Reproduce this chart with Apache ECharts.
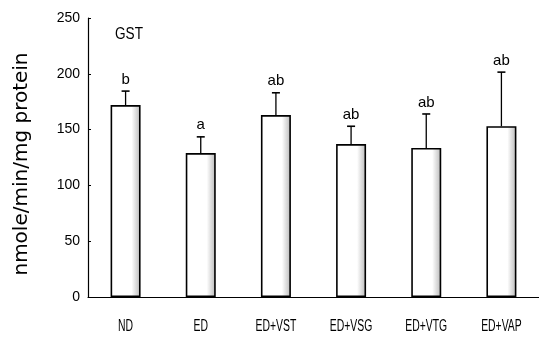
<!DOCTYPE html>
<html>
<head>
<meta charset="utf-8">
<script src="https://cdn.jsdelivr.net/npm/echarts@6/dist/echarts.min.js"></script>
<style>
  html, body { margin: 0; padding: 0; background: #fff; }
  #chart { width: 539px; height: 338px; }
</style>
</head>
<body>
<div id="chart"></div>
<script>
// GST activity per group (mean and SD) with significance letters
const groups = ['ND', 'ED', 'ED+VST', 'ED+VSG', 'ED+VTG', 'ED+VAP'];
const means = [172, 129, 163, 137, 133.5, 153];
const sds = [12.5, 14.5, 20, 16, 30.5, 48.5];
const letters = ['b', 'a', 'ab', 'ab', 'ab', 'ab'];
const yTicks = [0, 50, 100, 150, 200, 250];

const chart = echarts.init(document.getElementById('chart'));

const errData = groups.map((g, i) => [i, means[i], means[i] + sds[i], letters[i]]);
const baseFont = '"Liberation Sans", Arial, sans-serif';

chart.setOption({
  animation: false,
  backgroundColor: '#fff',
  grid: { left: 88, right: 0, top: 18, bottom: 41 },
  xAxis: {
    type: 'category',
    data: groups,
    boundaryGap: true,
    axisLine: { lineStyle: { color: '#000', width: 1.2 } },
    axisTick: { inside: true, length: 3, interval: 0, lineStyle: { color: '#000' } },
    // category names are drawn below as condensed text
    axisLabel: { show: false }
  },
  yAxis: {
    type: 'value',
    min: yTicks[0],
    max: yTicks[yTicks.length - 1],
    interval: 50,
    splitLine: { show: false },
    axisLine: { show: true, lineStyle: { color: '#000', width: 1.2 } },
    axisTick: { show: true, inside: true, length: 3, lineStyle: { color: '#000' } },
    axisLabel: {
      color: '#000',
      fontFamily: baseFont,
      fontSize: 14,
      margin: 8
    }
  },
  series: [
    {
      type: 'bar',
      data: means,
      barWidth: 30,
      itemStyle: {
        color: {
          type: 'linear', x: 0, y: 0, x2: 1, y2: 0,
          colorStops: [
            { offset: 0, color: '#ffffff' },
            { offset: 0.7, color: '#ffffff' },
            { offset: 0.82, color: '#e2e2e2' },
            { offset: 1, color: '#b8b8b8' }
          ]
        },
        borderColor: '#000',
        borderWidth: 1.6
      },
      z: 2
    },
    {
      type: 'custom',
      data: errData,
      z: 3,
      renderItem: function (params, api) {
        const x = api.value(0);
        const base = api.coord([x, api.value(1)]);
        const top = api.coord([x, api.value(2)]);
        const cap = 4;
        return {
          type: 'group',
          children: [
            {
              type: 'line',
              shape: { x1: base[0], y1: base[1], x2: top[0], y2: top[1] },
              style: { stroke: '#000', lineWidth: 1.3 }
            },
            {
              type: 'line',
              shape: { x1: top[0] - cap, y1: top[1], x2: top[0] + cap, y2: top[1] },
              style: { stroke: '#000', lineWidth: 1.6 }
            },
            {
              type: 'text',
              x: top[0],
              y: top[1] - 4,
              style: {
                text: api.value(3),
                fill: '#000',
                font: '15px ' + baseFont,
                textAlign: 'center',
                textVerticalAlign: 'bottom'
              }
            }
          ]
        };
      }
    }
  ]
});

// Condensed category names, placed at the axis category positions
const labelY = chart.convertToPixel({ yAxisIndex: 0 }, 0) + 30;
const catLabels = groups.map(function (g) {
  return {
    type: 'text',
    x: chart.convertToPixel({ xAxisIndex: 0 }, g),
    y: labelY,
    scaleX: 0.65,
    style: {
      text: g,
      fill: '#000',
      font: '16px ' + baseFont,
      textAlign: 'center',
      textVerticalAlign: 'middle'
    }
  };
});

chart.setOption({
  graphic: catLabels.concat([
    {
      type: 'text',
      x: 22,
      y: 164,
      rotation: Math.PI / 2,
      style: {
        text: 'nmole/min/mg protein',
        fill: '#000',
        font: '20px "DejaVu Sans", sans-serif',
        textAlign: 'center',
        textVerticalAlign: 'middle'
      }
    },
    {
      type: 'text',
      x: 115,
      y: 34,
      scaleX: 0.8,
      style: {
        text: 'GST',
        fill: '#000',
        font: '17px ' + baseFont,
        textAlign: 'left',
        textVerticalAlign: 'middle'
      }
    }
  ])
});
</script>
</body>
</html>
